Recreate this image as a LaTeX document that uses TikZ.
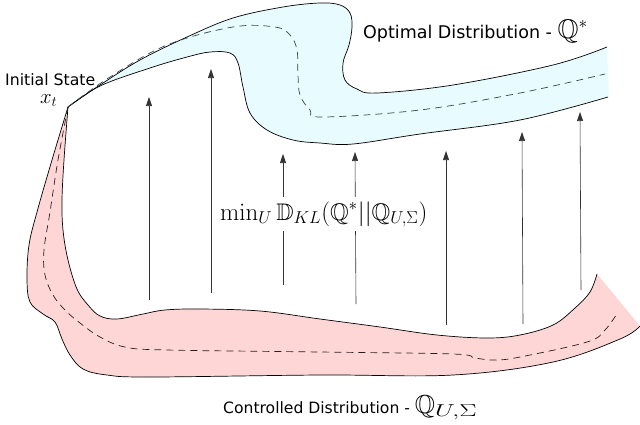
\documentclass[tikz,border=0pt]{standalone}
\usepackage{amssymb}
\usepackage{graphicx}
\usepackage[no-math]{fontspec}
\setmainfont{DejaVu Sans}
\usetikzlibrary{arrows.meta}
\definecolor{bluefill}{RGB}{232,251,255}
\definecolor{pinkfill}{RGB}{255,214,214}
\definecolor{dashblue}{RGB}{50,70,80}
\definecolor{dashpink}{RGB}{40,30,30}
\newcommand{\widesub}[1]{\scalebox{1.5}[1]{$\scriptstyle #1$}}
\tikzset{
  outline/.style={draw=black, line width=0.7pt},
  midline/.style={line width=0.7pt, dash pattern=on 7pt off 5pt},
  uparrow/.style={draw=black!80, line width=0.6pt, -{Triangle[length=9pt,width=6pt]}},
  lbl/.style={inner sep=0pt, anchor=base west},
}
\begin{document}
\begin{tikzpicture}[x=1pt,y=-1pt]
\useasboundingbox (0,0) rectangle (640,424);
% ---------- optimal distribution (blue) ----------
\fill[bluefill] plot[smooth,tension=0.6] coordinates {(68,107) (100,85) (140,60) (187,37) (233,18) (283,7) (320,3) (340,5) (350,13) (352,27) (349,45) (343,63) (345,80) (357,89) (377,93) (453,85) (553,65) (607,47)}
  -- (609,97) -- plot[smooth,tension=0.6] coordinates {(608,97) (520,120) (420,134) (353,144) (320,143) (293,140) (267,130) (250,113) (243,87) (238,63) (230,53) (210,52) (187,57) (150,68) (100,86) (68,107)} -- cycle;
\draw[outline] plot[smooth,tension=0.6] coordinates {(68,107) (100,85) (140,60) (187,37) (233,18) (283,7) (320,3) (340,5) (350,13) (352,27) (349,45) (343,63) (345,80) (357,89) (377,93) (453,85) (553,65) (607,47)};
\draw[outline] plot[smooth,tension=0.6] coordinates {(608,97) (520,120) (420,134) (353,144) (320,143) (293,140) (267,130) (250,113) (243,87) (238,63) (230,53) (210,52) (187,57) (150,68) (100,86) (68,107)};
\draw[midline, dashblue] plot[smooth,tension=0.6] coordinates {(68,107) (110,77) (167,45) (233,27) (275,27) (290,35) (297,50) (298,75) (300,95) (310,110) (322,117) (420,110) (520,93) (605,74)};
% ---------- controlled distribution (pink) ----------
\fill[pinkfill] plot[smooth,tension=0.6] coordinates {(68,107) (52,160) (37,212) (29,245) (27,279) (30,302) (43,314) (55,322) (62,339) (70,355) (83,369) (107,375) (150,377) (320,375) (453,375) (553,362) (620,339) (640,326)}
  -- plot[smooth,tension=0.6] coordinates {(597,274) (590,292) (575,308) (553,325) (520,335) (487,338) (437,335) (380,327) (320,319) (260,311) (200,309) (165,310) (143,314) (117,319) (100,316) (88,305) (77,289) (68,260) (63,230) (62,200) (64,160) (68,107)} -- cycle;
\draw[outline] plot[smooth,tension=0.6] coordinates {(68,107) (52,160) (37,212) (29,245) (27,279) (30,302) (43,314) (55,322) (62,339) (70,355) (83,369) (107,375) (150,377) (320,375) (453,375) (553,362) (620,339) (640,326)};
\draw[outline] plot[smooth,tension=0.6] coordinates {(597,274) (590,292) (575,308) (553,325) (520,335) (487,338) (437,335) (380,327) (320,319) (260,311) (200,309) (165,310) (143,314) (117,319) (100,316) (88,305) (77,289) (68,260) (63,230) (62,200) (64,160) (68,107)};
\draw[midline, dashpink] plot[smooth,tension=0.6] coordinates {(68,107) (58,160) (50,212) (44,250) (45,275) (53,295) (65,310) (80,323) (100,337) (125,347) (167,350) (320,352) (453,354) (475,358) (495,360) (520,357) (587,342) (605,330) (618,312)};
% ---------- arrows ----------
\coordinate (a1b) at (149,300); \coordinate (a1t) at (149,97);
\coordinate (a2b) at (211,293); \coordinate (a2t) at (211,69);
\coordinate (a3b) at (283,285); \coordinate (a3t) at (283,154);
\coordinate (a4b) at (356,304); \coordinate (a4t) at (355,152);
\coordinate (a5b) at (446,325); \coordinate (a5t) at (446,151);
\coordinate (a6b) at (523,324); \coordinate (a6t) at (522,132);
\coordinate (a7b) at (581,290); \coordinate (a7t) at (580,112);
\foreach \i in {1,...,7} { \draw[uparrow] (a\i b) -- (a\i t); }
% ---------- labels ----------
\node[anchor=base west, fill=white, inner sep=4pt, font=\fontsize{24}{27}\selectfont] (kl) at (216,220) {$\min_U \mathbb{D}_{KL}(\mathbb{Q}^*||\mathbb{Q}_{U,\Sigma})$};
\node[lbl, font=\fontsize{15.7}{18}\selectfont] (init) at (5,85) {Initial State};
\node[lbl, font=\fontsize{22}{24}\selectfont] (xt) at (40,103) {$x_t$};
\node[lbl, font=\fontsize{17.5}{20}\selectfont] (opt) at (363,38) {Optimal Distribution - {\fontsize{27}{30}\selectfont$\mathbb{Q}^*$}};
\node[lbl, font=\fontsize{15.6}{18}\selectfont] (ctl) at (223,413) {Controlled Distribution - {\fontsize{26}{28}\selectfont$\mathbb{Q}_{\widesub{U,\Sigma}}$}};
\end{tikzpicture}
\end{document}
